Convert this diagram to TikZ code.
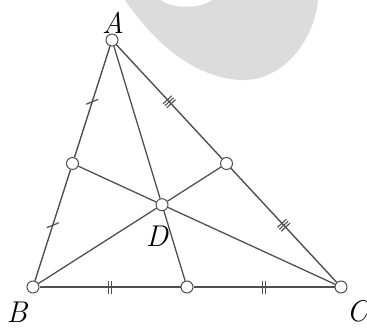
\documentclass[tikz,border=0pt]{standalone}
\usepackage{tikz}
\usetikzlibrary{decorations.markings}
\definecolor{GLine}{HTML}{505050}
\definecolor{GBlob}{HTML}{DCDCDC}
\tikzset{
  side/.style={GLine,line width=1.4pt},
  median/.style={GLine,line width=1.3pt},
  pt/.style={circle,draw=GLine,line width=1pt,fill=white,inner sep=0pt,minimum size=12pt},
  vlabel/.style={font=\fontsize{30}{34}\selectfont\itshape,inner sep=0pt},
  tickone/.style={postaction={decorate,decoration={markings,mark=at position .5 with
      {\draw[GLine,line width=1.2pt,rotate=40] (0,-6.5pt) -- (0,6.5pt);}}}},
  ticktwo/.style={postaction={decorate,decoration={markings,mark=at position .5 with
      {\draw[GLine,line width=1.2pt] (-1.6pt,-6.5pt) -- (-1.6pt,6.5pt) (1.6pt,-6.5pt) -- (1.6pt,6.5pt);}}}},
  tickthree/.style={postaction={decorate,decoration={markings,mark=at position .5 with
      {\draw[GLine,line width=1.1pt] (-2.7pt,-6pt) -- (-2.7pt,6pt) (0,-6pt) -- (0,6pt) (2.7pt,-6pt) -- (2.7pt,6pt);}}}},
}
\begin{document}
\begin{tikzpicture}[x=1pt,y=1pt]
  \useasboundingbox (0,0) rectangle (367,327);
  % watermark
  \fill[GBlob] (125,327) .. controls (150,290) and (190,250) .. (240,247)
    .. controls (285,245) and (315,290) .. (318,327) -- cycle;
  \fill[white] (161,327) .. controls (172,318) and (200,318) .. (212,327) -- cycle;

  \node[pt] (A) at (112,287) {};
  \node[pt] (B) at (33,40) {};
  \node[pt] (C) at (341,40) {};
  \node[pt] (Mab) at (72.5,163.5) {};
  \node[pt] (Mac) at (226.5,163.5) {};
  \node[pt] (Mbc) at (187,40) {};
  \node[pt] (D) at (162,122.3) {};

  \draw[side,tickone] (A) -- (Mab);
  \draw[side,tickone] (Mab) -- (B);
  \draw[side,ticktwo] (B) -- (Mbc);
  \draw[side,ticktwo] (Mbc) -- (C);
  \draw[side,tickthree] (C) -- (Mac);
  \draw[side,tickthree] (Mac) -- (A);

  \draw[median] (A) -- (D) -- (Mbc);
  \draw[median] (B) -- (D) -- (Mac);
  \draw[median] (C) -- (D) -- (Mab);

  \node[vlabel] (lA) at (113,304.5) {A};
  \node[vlabel] (lB) at (17,15) {B};
  \node[vlabel] (lC) at (357,16) {C};
  \node[vlabel] (lD) at (157,91) {D};
\end{tikzpicture}
\end{document}
